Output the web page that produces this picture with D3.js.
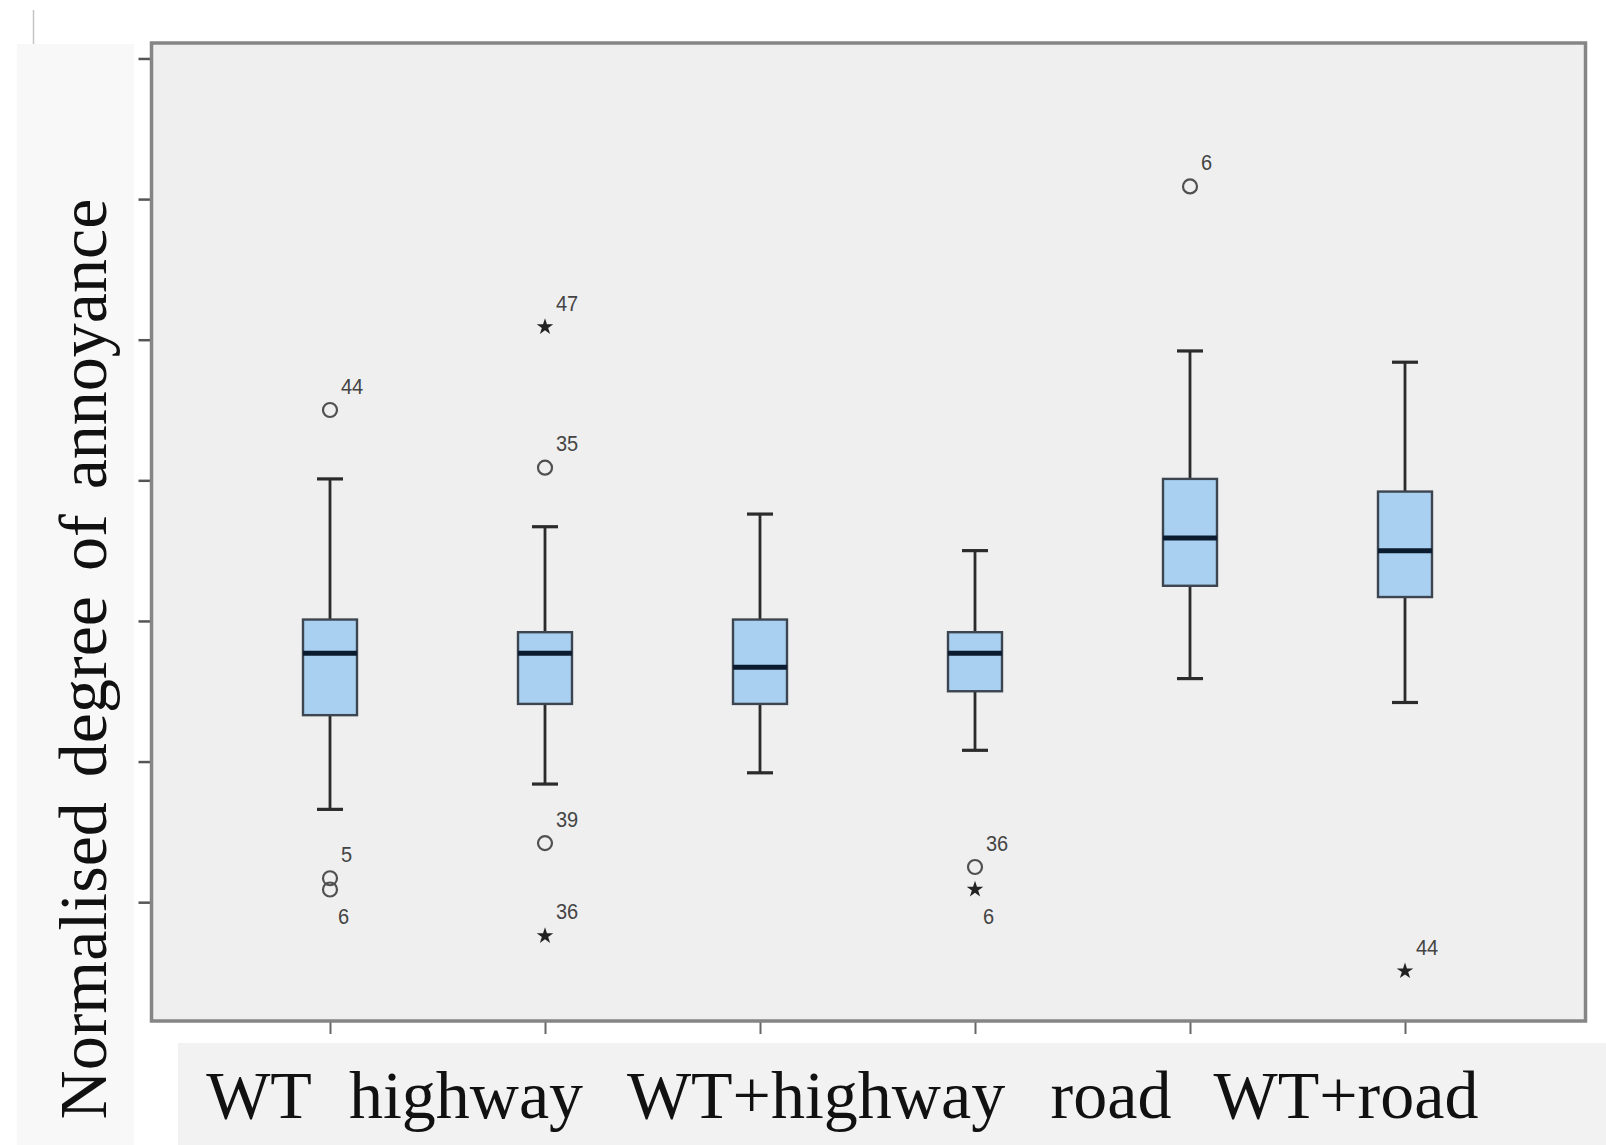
<!DOCTYPE html>
<html>
<head>
<meta charset="utf-8">
<script src="https://cdn.jsdelivr.net/npm/d3@7"></script>
<style>
  body { margin: 0; background: #fff; }
  svg { display: block; }
</style>
</head>
<body>
<div id="chart"></div>
<script>
// groups (six boxes, five labels under the axis as in the source figure)
const groups = ["g1", "g2", "g3", "g4", "g5", "g6"]
const whiskerLow  = [0.66, 0.84, 0.92, 1.08, 1.59, 1.42]
const q1          = [1.33, 1.41, 1.41, 1.50, 2.25, 2.17]
const median      = [1.77, 1.77, 1.67, 1.77, 2.59, 2.50]
const q3          = [2.01, 1.92, 2.01, 1.92, 3.01, 2.92]
const whiskerHigh = [3.01, 2.67, 2.76, 2.50, 3.92, 3.84]

// outliers: group index, value, marker, case id
const outGroup = [0, 0, 0, 1, 1, 1, 1, 3, 3, 4, 5]
const outValue = [3.50, 0.17, 0.09, 4.09, 3.09, 0.42, -0.24, 0.25, 0.09, 5.09, -0.49]
const outType  = ["o", "o", "o", "*", "o", "o", "*", "o", "*", "o", "*"]
const outId    = ["44", "5", "6", "47", "35", "39", "36", "36", "6", "6", "44"]
const outBelow = [false, false, true, false, false, false, false, false, true, false, false]

const yTicks = [0, 1, 2, 3, 4, 5, 6]
const xLabels = ["WT", "highway", "WT+highway", "road", "WT+road"]
const yTitle = "Normalised degree of annoyance"

const W = 1606, H = 1145
const frame = {left: 151.5, top: 43, right: 1585.5, bottom: 1021}
const labelX = [259, 466, 816, 1111, 1346]

const svg = d3.select('#chart').append('svg')
  .attr('width', W).attr('height', H)
  .attr('viewBox', [0, 0, W, H])

// light panels behind the titles (pasted-figure look)
svg.append('rect').attr('x', 17).attr('y', 44).attr('width', 117).attr('height', H - 44).attr('fill', '#f8f8f8')
svg.append('rect').attr('x', 178).attr('y', 1043).attr('width', W - 178).attr('height', H - 1043).attr('fill', '#f2f2f2')
svg.append('line').attr('x1', 33.5).attr('x2', 33.5).attr('y1', 10).attr('y2', 44).attr('stroke', '#c4c4c4').attr('stroke-width', 1.5)

const y = d3.scaleLinear().domain([-0.845, 6.11]).range([frame.bottom, frame.top])
const x = d3.scalePoint().domain(groups).range([330, 1405])
const boxW = 54, capW = 26

svg.append('rect')
  .attr('x', frame.left).attr('y', frame.top)
  .attr('width', frame.right - frame.left).attr('height', frame.bottom - frame.top)
  .attr('fill', '#efefef')

// y ticks without labels
svg.append('g')
  .attr('transform', `translate(${frame.left},0)`)
  .call(d3.axisLeft(y).tickValues(yTicks).tickSize(13).tickFormat(''))
  .call(g => g.select('.domain').remove())
  .call(g => g.selectAll('.tick line').attr('stroke', '#555').attr('stroke-width', 2.5))

// x ticks
svg.append('g')
  .attr('transform', `translate(0,${frame.bottom})`)
  .call(d3.axisBottom(x).tickSize(13).tickFormat(''))
  .call(g => g.select('.domain').remove())
  .call(g => g.selectAll('.tick line').attr('stroke', '#666').attr('stroke-width', 2))

const boxes = groups.map((g, i) => ({g, lo: whiskerLow[i], q1: q1[i], med: median[i], q3: q3[i], hi: whiskerHigh[i]}))

const bg = svg.append('g').selectAll('g')
  .data(boxes)
  .join('g')

bg.append('line')
  .attr('x1', d => x(d.g)).attr('x2', d => x(d.g))
  .attr('y1', d => y(d.hi)).attr('y2', d => y(d.lo))
  .attr('stroke', '#2b2b2b').attr('stroke-width', 2.8)

bg.selectAll('.cap')
  .data(d => [[d.g, d.hi], [d.g, d.lo]])
  .join('line')
    .attr('class', 'cap')
    .attr('x1', d => x(d[0]) - capW / 2).attr('x2', d => x(d[0]) + capW / 2)
    .attr('y1', d => y(d[1])).attr('y2', d => y(d[1]))
    .attr('stroke', '#2b2b2b').attr('stroke-width', 3.2)

bg.append('rect')
  .attr('x', d => x(d.g) - boxW / 2).attr('width', boxW)
  .attr('y', d => y(d.q3)).attr('height', d => y(d.q1) - y(d.q3))
  .attr('fill', '#a9d0f0').attr('stroke', '#3d4650').attr('stroke-width', 2.4)

bg.append('line')
  .attr('x1', d => x(d.g) - boxW / 2).attr('x2', d => x(d.g) + boxW / 2)
  .attr('y1', d => y(d.med)).attr('y2', d => y(d.med))
  .attr('stroke', '#0c1c30').attr('stroke-width', 5)

// outliers
const outs = outValue.map((v, i) => ({g: groups[outGroup[i]], v, type: outType[i], id: outId[i], below: outBelow[i]}))
const og = svg.append('g').selectAll('g')
  .data(outs)
  .join('g')
  .attr('transform', d => `translate(${x(d.g)},${y(d.v)})`)

og.filter(d => d.type === 'o').append('circle')
  .attr('r', 7).attr('fill', 'none').attr('stroke', '#505050').attr('stroke-width', 2.2)

og.filter(d => d.type === '*').append('path')
  .attr('d', d3.symbol(d3.symbolStar, 85))
  .attr('fill', '#222')

og.append('text')
  .attr('x', d => d.below ? 8 : 11)
  .attr('y', d => d.below ? 31 : -15)
  .attr('font-family', 'Liberation Sans, Arial, sans-serif')
  .attr('font-size', 20)
  .attr('fill', '#444')
  .attr('transform', 'scale(1,1.1)')
  .text(d => d.id)

// frame on top
svg.append('rect')
  .attr('x', frame.left).attr('y', frame.top)
  .attr('width', frame.right - frame.left).attr('height', frame.bottom - frame.top)
  .attr('fill', 'none').attr('stroke', '#858585').attr('stroke-width', 3.5)

// category labels
svg.append('g').selectAll('text')
  .data(xLabels)
  .join('text')
    .attr('x', (d, i) => labelX[i]).attr('y', 1118)
    .attr('text-anchor', 'middle')
    .attr('font-family', 'Liberation Serif, Times New Roman, serif')
    .attr('font-size', 68)
    .attr('fill', '#111')
    .text(d => d)

// y title
svg.append('text')
  .attr('transform', 'translate(106,659) rotate(-90)')
  .attr('text-anchor', 'middle')
  .attr('font-family', 'Liberation Serif, Times New Roman, serif')
  .attr('font-size', 68)
  .attr('word-spacing', 8)
  .attr('fill', '#111')
  .text(yTitle)
</script>
</body>
</html>
